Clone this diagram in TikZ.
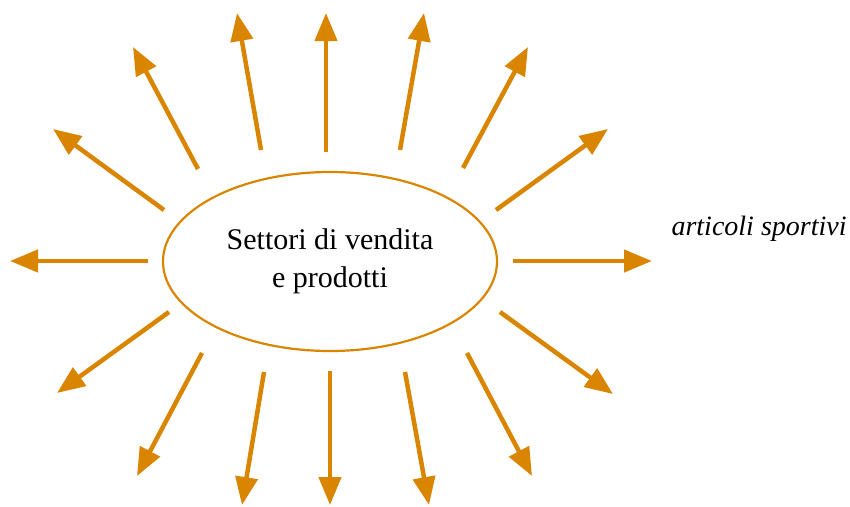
\documentclass[tikz,border=0pt]{standalone}
\usepackage{fontspec}
\setmainfont{Liberation Serif}
\usepackage{tikz}
\usetikzlibrary{shapes.geometric,arrows.meta}

\definecolor{sunorange}{RGB}{217,133,0}
\tikzset{
  ray/.style={draw=sunorange,line width=4.5pt,-{Triangle[length=28pt,width=22pt]}},
  hub/.style={ellipse,draw=sunorange,line width=2.2pt,minimum width=334pt,minimum height=179pt,inner sep=0pt,align=center,font=\fontsize{30}{38}\selectfont}
}

\begin{document}
\begin{tikzpicture}[x=1pt,y=-1pt]
    \useasboundingbox (0,0) rectangle (850,506);
    \node[hub] at (330,261.5) (hub) {Settori di vendita\\e prodotti};
    \node[anchor=base west,font=\fontsize{28}{34}\selectfont\itshape] at (668,235) (sport) {articoli sportivi};
    % tails
    \coordinate (s1) at (513,261);
    \coordinate (s2) at (496,210);
    \coordinate (s3) at (463,168);
    \coordinate (s4) at (400,150);
    \coordinate (s5) at (326,152);
    \coordinate (s6) at (261,150);
    \coordinate (s7) at (198,169);
    \coordinate (s8) at (164,210);
    \coordinate (s9) at (148,261);
    \coordinate (s10) at (169,312);
    \coordinate (s11) at (202,353);
    \coordinate (s12) at (264,372);
    \coordinate (s13) at (330,371);
    \coordinate (s14) at (405,372);
    \coordinate (s15) at (467,353);
    \coordinate (s16) at (500,312);
    % tips
    \coordinate (e1) at (652,261);
    \coordinate (e2) at (608,129);
    \coordinate (e3) at (528,47);
    \coordinate (e4) at (424,13);
    \coordinate (e5) at (326,13);
    \coordinate (e6) at (237,13);
    \coordinate (e7) at (133,47);
    \coordinate (e8) at (53,129);
    \coordinate (e9) at (10,261);
    \coordinate (e10) at (57,393);
    \coordinate (e11) at (137,476);
    \coordinate (e12) at (242,505);
    \coordinate (e13) at (330,505);
    \coordinate (e14) at (429,505);
    \coordinate (e15) at (532,476);
    \coordinate (e16) at (613,394);
    \draw (s1) edge[ray] (e1);
    \draw (s2) edge[ray] (e2);
    \draw (s3) edge[ray] (e3);
    \draw (s4) edge[ray] (e4);
    \draw (s5) edge[ray] (e5);
    \draw (s6) edge[ray] (e6);
    \draw (s7) edge[ray] (e7);
    \draw (s8) edge[ray] (e8);
    \draw (s9) edge[ray] (e9);
    \draw (s10) edge[ray] (e10);
    \draw (s11) edge[ray] (e11);
    \draw (s12) edge[ray] (e12);
    \draw (s13) edge[ray] (e13);
    \draw (s14) edge[ray] (e14);
    \draw (s15) edge[ray] (e15);
    \draw (s16) edge[ray] (e16);
\end{tikzpicture}
\end{document}
